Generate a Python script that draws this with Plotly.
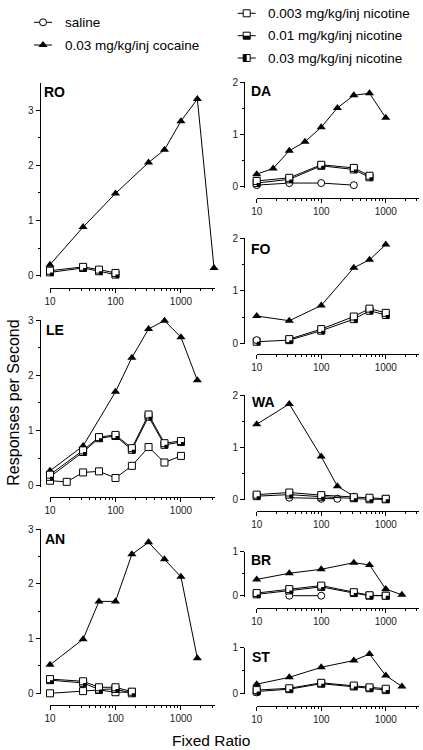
import plotly.graph_objects as go

W, H = 423, 750
FONT = "Liberation Sans, Arial, sans-serif"

# ---------------- data ----------------
RO_COC_FR = [10, 32, 100, 320, 560, 1000, 1780, 3200]
RO_COC = [0.20, 0.88, 1.49, 2.05, 2.28, 2.80, 3.20, 0.14]
RO_NIC_FR = [10, 32, 56, 100]
RO_N003 = [0.09, 0.16, 0.11, 0.05]
RO_N01 = [0.06, 0.14, 0.08, 0.02]

LE_COC_FR = [10, 32, 100, 178, 320, 560, 1000, 1780]
LE_COC = [0.27, 0.72, 1.70, 2.32, 2.84, 2.99, 2.69, 1.91]
LE_NIC_FR = [10, 32, 56, 100, 178, 320, 560, 1000]
LE_N003 = [0.20, 0.64, 0.88, 0.92, 0.68, 1.29, 0.77, 0.81]
LE_N01 = [0.16, 0.61, 0.86, 0.90, 0.65, 1.25, 0.74, 0.79]
LE_N03_FR = [10, 18, 32, 56, 100, 178, 320, 560, 1000]
LE_N03 = [0.09, 0.07, 0.24, 0.26, 0.14, 0.36, 0.70, 0.42, 0.54]

AN_COC_FR = [10, 32, 56, 100, 178, 320, 560, 1000, 1780]
AN_COC = [0.52, 0.99, 1.68, 1.68, 2.54, 2.76, 2.45, 2.13, 0.64]
AN_NIC_FR = [10, 32, 56, 100, 178]
AN_N003 = [0.26, 0.22, 0.11, 0.11, 0.03]
AN_N01 = [0.24, 0.19, 0.07, 0.08, 0.00]
AN_N03 = [0.00, 0.04, 0.06, 0.02, 0.02]

DA_COC_FR = [10, 18, 32, 56, 100, 178, 320, 560, 1000]
DA_COC = [0.24, 0.35, 0.69, 0.86, 1.14, 1.51, 1.75, 1.79, 1.32]
DA_SAL_FR = [10, 32, 100, 320]
DA_SAL = [0.03, 0.07, 0.07, 0.03]
DA_NIC_FR = [10, 32, 100, 320, 560]
DA_N003 = [0.11, 0.17, 0.42, 0.36, 0.21]
DA_N01 = [0.07, 0.14, 0.40, 0.33, 0.18]

FO_COC_FR = [10, 32, 100, 320, 560, 1000]
FO_COC = [0.52, 0.43, 0.72, 1.44, 1.59, 1.88]
FO_SAL_FR = [10]
FO_SAL = [0.06]
FO_N003_FR = [32, 100, 320, 560, 1000]
FO_N003 = [0.08, 0.27, 0.51, 0.66, 0.58]
FO_N01_FR = [10, 32, 100, 320, 560, 1000]
FO_N01 = [0.03, 0.06, 0.24, 0.46, 0.62, 0.54]

WA_COC_FR = [10, 32, 100, 178, 320]
WA_COC = [1.44, 1.83, 0.82, 0.25, 0.06]
WA_SAL_FR = [32, 100, 178]
WA_SAL = [0.03, 0.01, 0.01]
WA_NIC_FR = [10, 32, 100, 320, 560, 1000]
WA_N003 = [0.09, 0.13, 0.08, 0.04, 0.03, 0.01]
WA_N01 = [0.06, 0.09, 0.05, 0.02, 0.00, 0.00]

BR_COC_FR = [10, 32, 100, 320, 560, 1000, 1780]
BR_COC = [0.37, 0.51, 0.60, 0.75, 0.70, 0.15, 0.02]
BR_SAL_FR = [32, 100]
BR_SAL = [0.00, 0.00]
BR_NIC_FR = [10, 32, 100, 320, 560, 1000]
BR_N003 = [0.06, 0.15, 0.23, 0.08, 0.01, 0.00]
BR_N01 = [0.03, 0.12, 0.20, 0.06, 0.00, 0.00]

ST_COC_FR = [10, 32, 100, 320, 560, 1000, 1780]
ST_COC = [0.20, 0.35, 0.57, 0.72, 0.86, 0.39, 0.15]
ST_SAL_FR = [10]
ST_SAL = [0.02]
ST_NIC_FR = [10, 32, 100, 320, 560, 1000]
ST_N003 = [0.07, 0.11, 0.23, 0.17, 0.13, 0.10]
ST_N01 = [0.04, 0.09, 0.21, 0.15, 0.11, 0.07]

X_TICKS = [10, 100, 1000]
X_TICKTEXT = ["10", "100", "1000"]
X_MINOR = [20, 30, 40, 50, 60, 70, 80, 90, 200, 300, 400, 500, 600, 700, 800, 900, 2000, 3000]

LEGEND_LABELS = {
    "sal": "saline",
    "coc": "0.03 mg/kg/inj cocaine",
    "n003": "0.003 mg/kg/inj nicotine",
    "n01": "0.01 mg/kg/inj nicotine",
    "n03": "0.03 mg/kg/inj nicotine",
}

# ---------------- layout geometry (pixels) ----------------
COLS = [dict(xa=50.0, xb=215.0, yline=39.5), dict(xa=256.7, xb=419.3, yline=244.0)]
XLOG_MAX = 3.52
PANELS = [
    dict(name="RO", col=0, y0=275.7, unit=55.2, ymax=3.5, xline=287.7, yt=[0, 1, 2, 3], lab=(42, 92.3),
         series=[("coc", RO_COC_FR, RO_COC), ("n01", RO_NIC_FR, RO_N01), ("n003", RO_NIC_FR, RO_N003)]),
    dict(name="LE", col=0, y0=485.7, unit=55.2, ymax=3.0, xline=497.3, yt=[0, 1, 2, 3], lab=(44, 330),
         series=[("coc", LE_COC_FR, LE_COC), ("n03", LE_N03_FR, LE_N03), ("n01", LE_NIC_FR, LE_N01),
                 ("n003", LE_NIC_FR, LE_N003)]),
    dict(name="AN", col=0, y0=693.3, unit=54.7, ymax=3.0, xline=705.0, yt=[0, 1, 2, 3], lab=(43, 539),
         series=[("coc", AN_COC_FR, AN_COC), ("n03", AN_NIC_FR, AN_N03), ("n01", AN_NIC_FR, AN_N01),
                 ("n003", AN_NIC_FR, AN_N003)]),
    dict(name="DA", col=1, y0=186.7, unit=52.2, ymax=2.0, xline=197.7, yt=[0, 1, 2], lab=(249, 90.7),
         series=[("coc", DA_COC_FR, DA_COC), ("sal", DA_SAL_FR, DA_SAL), ("n01", DA_NIC_FR, DA_N01),
                 ("n003", DA_NIC_FR, DA_N003)]),
    dict(name="FO", col=1, y0=343.3, unit=52.5, ymax=2.0, xline=354.3, yt=[0, 1, 2], lab=(249, 248.7),
         series=[("coc", FO_COC_FR, FO_COC), ("n01", FO_N01_FR, FO_N01), ("n003", FO_N003_FR, FO_N003),
                 ("sal", FO_SAL_FR, FO_SAL)]),
    dict(name="WA", col=1, y0=499.3, unit=52.1, ymax=2.0, xline=511.0, yt=[0, 1, 2], lab=(250, 402.3),
         series=[("coc", WA_COC_FR, WA_COC), ("sal", WA_SAL_FR, WA_SAL), ("n01", WA_NIC_FR, WA_N01),
                 ("n003", WA_NIC_FR, WA_N003)]),
    dict(name="BR", col=1, y0=595.7, unit=44.0, ymax=1.0, xline=608.3, yt=[0, 1], lab=(249, 560),
         series=[("coc", BR_COC_FR, BR_COC), ("sal", BR_SAL_FR, BR_SAL), ("n01", BR_NIC_FR, BR_N01),
                 ("n003", BR_NIC_FR, BR_N003)]),
    dict(name="ST", col=1, y0=693.3, unit=45.6, ymax=1.0, xline=706.0, yt=[0, 1], lab=(250, 656.7),
         series=[("coc", ST_COC_FR, ST_COC), ("sal", ST_SAL_FR, ST_SAL), ("n01", ST_NIC_FR, ST_N01),
                 ("n003", ST_NIC_FR, ST_N003)]),
]

SQ = 7      # square marker size
HALF = SQ / 2.0
PAD = 9.0   # extra pixels for the hidden data subplot
SLACK = 1.0


def px(x):
    return x / W


def py(y):
    return 1 - y / H


def marker_for(kind):
    if kind == "coc":
        return dict(symbol="triangle-up", size=8, color="black", line=dict(width=0))
    if kind == "sal":
        return dict(symbol="circle", size=7, color="white", line=dict(color="black", width=1))
    return dict(symbol="square", size=SQ, color="white", line=dict(color="black", width=1))


def half_shapes(kind, xs, ys, xr, yr):
    out = []
    if kind not in ("n01", "n03"):
        return out
    for xv, yv in zip(xs, ys):
        if kind == "n01":
            x0, x1, y0, y1 = -HALF, HALF, -HALF, 0
        else:
            x0, x1, y0, y1 = -HALF, 0, -HALF, HALF
        out.append(dict(type="rect", xref=xr, yref=yr, xsizemode="pixel", ysizemode="pixel",
                        xanchor=xv, yanchor=yv, x0=x0, x1=x1, y0=y0, y1=y1,
                        fillcolor="black", line=dict(width=0), layer="above"))
    return out


fig = go.Figure()
layout = dict(template="none", width=W, height=H, margin=dict(l=0, r=0, t=0, b=0, autoexpand=False),
              paper_bgcolor="white", plot_bgcolor="rgba(0,0,0,0)",
              showlegend=False, hovermode=False, font=dict(family=FONT, color="#111"))
shapes = []
annotations = []

tickfont = dict(family=FONT, size=10, color="#222")

for i, p in enumerate(PANELS):
    c = COLS[p["col"]]
    xa, xb = c["xa"], c["xb"]
    dec = (xb - xa) / (XLOG_MAX - 1)
    ytop = p["y0"] - p["ymax"] * p["unit"]
    ip, iq = 2 * i + 1, 2 * i + 2
    sp = "" if ip == 1 else str(ip)
    sq = str(iq)
    # visible axes
    layout["xaxis" + sp] = dict(
        type="log", domain=[px(xa), px(xb)], range=[1, XLOG_MAX], anchor="free", automargin=False,
        position=py(p["xline"]), showline=True, linecolor="black", linewidth=1,
        ticks="outside", ticklen=4, tickwidth=1, tickcolor="black",
        tickvals=X_TICKS, ticktext=X_TICKTEXT, tickfont=tickfont, showgrid=False, zeroline=False,
        minor=dict(tickvals=X_MINOR, ticks="outside", ticklen=2, tickwidth=1, tickcolor="black", showgrid=False),
    )
    ymin_minor = [v + 0.5 for v in range(int(p["ymax"])) if v + 0.5 <= p["ymax"]]
    layout["yaxis" + sp] = dict(
        domain=[py(p["y0"] + SLACK), py(ytop)], range=[-SLACK / p["unit"], p["ymax"]], anchor="free",
        automargin=False,
        position=px(c["yline"]), showline=True, linecolor="black", linewidth=1,
        ticks="outside", ticklen=4, tickwidth=1, tickcolor="black",
        tickvals=p["yt"], tickfont=tickfont, showgrid=False, zeroline=False,
        minor=dict(tickvals=ymin_minor, ticks="outside", ticklen=2, tickwidth=1, tickcolor="black", showgrid=False),
    )
    # hidden data axes (same scale, padded area so nothing is clipped)
    xb2 = min(xb + PAD, W)
    layout["xaxis" + sq] = dict(
        type="log", domain=[px(xa - PAD), px(xb2)], automargin=False,
        range=[1 - PAD / dec, XLOG_MAX + (xb2 - xb) / dec], anchor="y" + sq, visible=False,
    )
    layout["yaxis" + sq] = dict(
        domain=[py(p["y0"] + PAD), py(ytop - PAD)], automargin=False,
        range=[-PAD / p["unit"], p["ymax"] + PAD / p["unit"]], anchor="x" + sq, visible=False,
    )
    for kind, xs, ys in p["series"]:
        if kind == "coc":
            xr, yr = "x" + sp, "y" + sp
        else:
            xr, yr = "x" + sq, "y" + sq
        fig.add_trace(go.Scatter(x=xs, y=ys, mode="lines+markers", xaxis=xr, yaxis=yr,
                                 line=dict(color="black", width=1), marker=marker_for(kind),
                                 cliponaxis=False))
        shapes += half_shapes(kind, xs, ys, xr, yr)
    annotations.append(dict(text="<b>%s</b>" % p["name"], x=px(p["lab"][0]), y=py(p["lab"][1]),
                            xref="paper", yref="paper", xanchor="left", yanchor="middle",
                            showarrow=False, font=dict(family=FONT, size=14, color="black")))

# ---------------- legend (own hidden axes, pixel-like coordinates) ----------------
LG = "17"
layout["xaxis" + LG] = dict(domain=[0, 1], range=[0, W], anchor="y" + LG, visible=False, automargin=False)
layout["yaxis" + LG] = dict(domain=[py(75), 1], range=[75, 0], anchor="x" + LG, visible=False, automargin=False)
LEGEND_POS = [("sal", 43, 22.3), ("coc", 43, 45.0), ("n003", 246.7, 13.3), ("n01", 246.7, 35.7), ("n03", 246.7, 58.0)]
for kind, lx, ly in LEGEND_POS:
    fig.add_trace(go.Scatter(x=[lx - 9, lx + 9], y=[ly, ly], mode="lines", xaxis="x" + LG, yaxis="y" + LG,
                             line=dict(color="black", width=1), cliponaxis=False))
    fig.add_trace(go.Scatter(x=[lx], y=[ly], mode="markers", xaxis="x" + LG, yaxis="y" + LG,
                             marker=marker_for(kind), cliponaxis=False))
    shapes += half_shapes(kind, [lx], [ly], "x" + LG, "y" + LG)
    annotations.append(dict(text=LEGEND_LABELS[kind], x=px(lx + 19.5), y=py(ly), xref="paper", yref="paper",
                            xanchor="left", yanchor="middle", showarrow=False,
                            font=dict(family=FONT, size=13.5, color="black")))

annotations.append(dict(text="Responses per Second", x=px(12.7), y=py(403), xref="paper", yref="paper",
                        textangle=-90, xanchor="center", yanchor="middle", showarrow=False,
                        font=dict(family=FONT, size=16, color="black")))
annotations.append(dict(text="Fixed Ratio", x=px(211), y=py(740), xref="paper", yref="paper",
                        xanchor="center", yanchor="middle", showarrow=False,
                        font=dict(family=FONT, size=15.5, color="black")))

layout["shapes"] = shapes
layout["annotations"] = annotations
fig.update_layout(**layout)
fig.write_html("out.html", config={"displayModeBar": False, "staticPlot": True},
               post_script="document.body.style.margin='0px';document.body.style.overflow='hidden';")
